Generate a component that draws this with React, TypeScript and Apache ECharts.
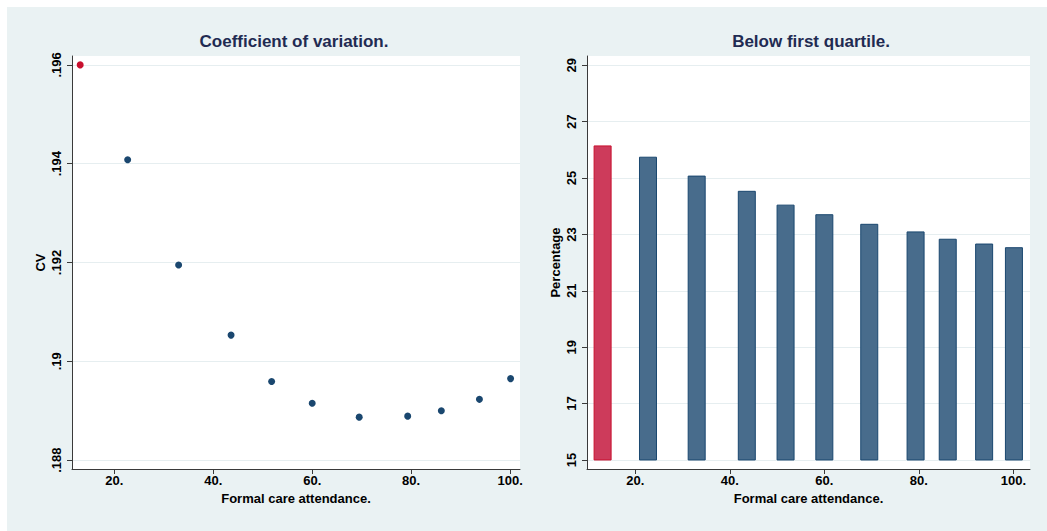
import React, { useEffect, useRef } from "react";
import * as echarts from "echarts";

const attendance = [13.1, 22.7, 33.0, 43.6, 51.8, 60.0, 69.5, 79.3, 86.1, 93.8, 100.1];
const cvValues = [0.196, 0.19408, 0.19195, 0.19053, 0.18959, 0.18915, 0.18887, 0.18889, 0.189, 0.18923, 0.18965];
const belowQ1 = [26.14, 25.74, 25.07, 24.53, 24.04, 23.7, 23.36, 23.09, 22.83, 22.66, 22.53];
const xTicks = [20, 40, 60, 80, 100];
const cvTicks = [0.188, 0.19, 0.192, 0.194, 0.196];
const pctTicks = [15, 17, 19, 21, 23, 25, 27, 29];
const titles = ["Coefficient of variation.", "Below first quartile."];
const xName = "Formal care attendance.";
const cvName = "CV";
const pctName = "Percentage";
const barBase = 15;

const FONT = "'Liberation Sans', Arial, Helvetica, sans-serif";
const AXIS = "#3a3a3a";
const GRIDC = "#e6eef0";
const NAVY = "#1a476f";
const NAVY_FILL = "#486c8c";
const RED = "#c8102e";
const RED_FILL = "#cd3b5b";

function xAxisCfg(gridIndex: number, min: number, max: number) {
  return {
    type: "value",
    gridIndex,
    min,
    max,
    axisLine: { show: true, onZero: false, lineStyle: { color: AXIS, width: 1 } },
    axisTick: { show: true, length: 5, customValues: xTicks, lineStyle: { color: AXIS } },
    axisLabel: {
      customValues: xTicks,
      margin: 5,
      color: "#000",
      fontFamily: FONT,
      fontSize: 13,
      fontWeight: "bold",
      formatter: (v: number) => `${v}.`,
    },
    splitLine: { show: false },
    name: xName,
    nameLocation: "middle",
    nameGap: 20,
    nameTextStyle: { color: "#000", fontFamily: FONT, fontSize: 13, fontWeight: "bold" },
  };
}

function yAxisCfg(
  gridIndex: number,
  min: number,
  max: number,
  ticks: number[],
  name: string,
  fmt: (v: number) => string
) {
  return {
    type: "value",
    gridIndex,
    min,
    max,
    axisLine: { show: true, onZero: false, lineStyle: { color: AXIS, width: 1 } },
    axisTick: { show: true, length: 5, customValues: ticks, lineStyle: { color: AXIS } },
    axisLabel: {
      customValues: ticks,
      rotate: 90,
      margin: 9,
      color: "#000",
      fontFamily: FONT,
      fontSize: 13,
      fontWeight: "bold",
      formatter: fmt,
    },
    splitLine: { show: true, lineStyle: { color: GRIDC, width: 1 } },
    name,
    nameLocation: "middle",
    nameRotate: 90,
    nameGap: 25,
    nameTextStyle: { color: "#000", fontFamily: FONT, fontSize: 13, fontWeight: "bold" },
  };
}

export default function App() {
  const ref = useRef<HTMLDivElement>(null);
  useEffect(() => {
    if (!ref.current) return;
    const chart = echarts.init(ref.current, undefined, { renderer: "svg" });
    const option: any = {
      animation: false,
      backgroundColor: "#eaf2f3",
      graphic: [
        {
          type: "text",
          x: 287,
          y: 26,
          style: {
            text: titles[0],
            align: "center",
            verticalAlign: "top",
            fill: "#1f2b52",
            font: `bold 17px ${FONT}`,
          },
        },
        {
          type: "text",
          x: 804,
          y: 26,
          style: {
            text: titles[1],
            align: "center",
            verticalAlign: "top",
            fill: "#1f2b52",
            font: `bold 17px ${FONT}`,
          },
        },
      ],
      grid: [
        { left: 65, top: 49, width: 448, height: 413, show: true, backgroundColor: "#fff", borderWidth: 0 },
        { left: 580, top: 49, width: 443, height: 413, show: true, backgroundColor: "#fff", borderWidth: 0 },
      ],
      xAxis: [xAxisCfg(0, 11.45, 102), xAxisCfg(1, 9.8, 103.5)],
      yAxis: [
        yAxisCfg(0, 0.18782, 0.19618, cvTicks, cvName, (v: number) =>
          String(Number(v.toFixed(4))).replace(/^0/, "")
        ),
        yAxisCfg(1, 14.68, 29.33, pctTicks, pctName, (v: number) => String(v)),
      ],
      series: [
        {
          type: "scatter",
          xAxisIndex: 0,
          yAxisIndex: 0,
          symbol: "circle",
          symbolSize: 7,
          data: attendance.map((x, i) => ({
            value: [x, cvValues[i]],
            itemStyle: { color: i === 0 ? RED : NAVY, opacity: 1 },
          })),
        },
        {
          type: "custom",
          xAxisIndex: 1,
          yAxisIndex: 1,
          encode: { x: 0, y: 1 },
          data: attendance.map((x, i) => [x, belowQ1[i]]),
          renderItem: (params: any, api: any) => {
            const x = api.value(0);
            const v = api.value(1);
            const top = api.coord([x, v]);
            const base = api.coord([x, barBase]);
            const w = 17;
            const first = params.dataIndex === 0;
            return {
              type: "rect",
              shape: { x: top[0] - w / 2, y: top[1], width: w, height: base[1] - top[1] },
              style: {
                fill: first ? RED_FILL : NAVY_FILL,
                stroke: first ? RED : NAVY,
                lineWidth: 1,
              },
            };
          },
        },
      ],
    };
    chart.setOption(option);
    return () => chart.dispose();
  }, []);
  return (
    <div
      ref={ref}
      style={{ position: "fixed", left: 7, top: 7, width: 1040, height: 524 }}
    />
  );
}
